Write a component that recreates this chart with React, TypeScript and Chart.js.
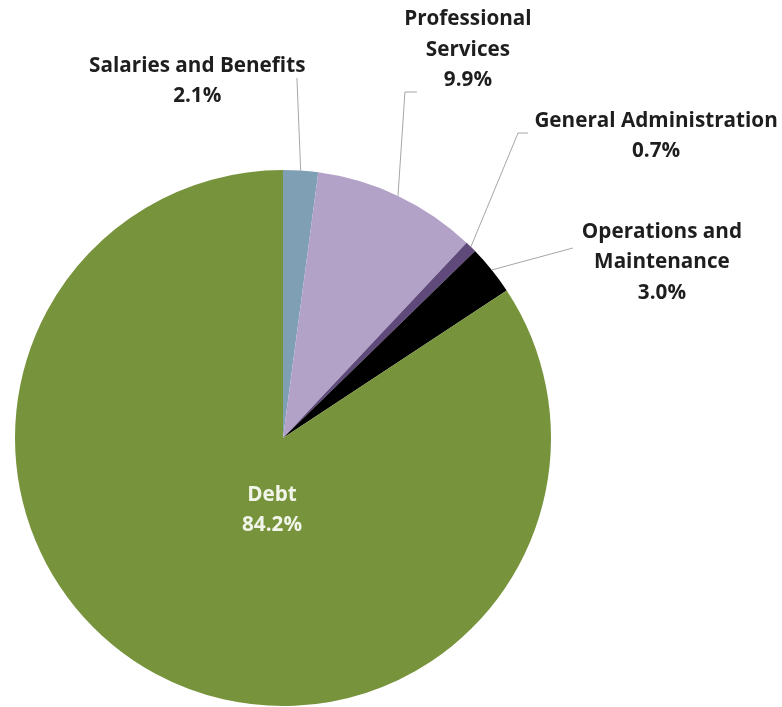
import React, { useEffect, useRef } from "react";
import { Chart, registerables } from "chart.js";

Chart.register(...registerables);

const categories = [
  "Salaries and Benefits",
  "Professional Services",
  "General Administration",
  "Operations and Maintenance",
  "Debt",
];
const labelLines = [
  ["Salaries and Benefits"],
  ["Professional", "Services"],
  ["General Administration"],
  ["Operations and", "Maintenance"],
  ["Debt"],
];
const shares = [2.1, 9.9, 0.7, 3.0, 84.2];
const colors = ["#7F9FB4", "#B3A2C7", "#604A7B", "#000000", "#77933C"];

// label placement relative to pie centre, in units of radius
const labelLayout = [
  { tx: -0.32, ty: -1.388, color: "#1E1E1E", leader: [[0.052, -1.343]] },
  { tx: 0.69, ty: -1.563, color: "#1E1E1E", leader: [[0.455, -1.291], [0.5, -1.291]] },
  { tx: 1.392, ty: -1.183, color: "#1E1E1E", leader: [[0.877, -1.138], [0.914, -1.138]] },
  { tx: 1.414, ty: -0.769, color: "#1E1E1E", leader: [[1.082, -0.709]] },
  { tx: -0.041, ty: 0.213, color: "#F2F5EA", leader: null },
];

const FONT = 'bold 20.7px "Open Sans", Lato, sans-serif';
const LINE_H = 30.5;

const labelPlugin = {
  id: "pieLabels",
  afterDatasetsDraw(chart: any) {
    const ctx = chart.ctx;
    const meta = chart.getDatasetMeta(0);
    meta.data.forEach((arc: any, i: number) => {
      const { x: cx, y: cy, outerRadius: r, startAngle, endAngle } = arc.getProps(
        ["x", "y", "outerRadius", "startAngle", "endAngle"],
        true
      );
      const lay = labelLayout[i];
      const mid = (startAngle + endAngle) / 2;
      if (lay.leader) {
        ctx.save();
        ctx.strokeStyle = "#A6A6A6";
        ctx.lineWidth = 1;
        ctx.beginPath();
        ctx.moveTo(cx + Math.cos(mid) * r, cy + Math.sin(mid) * r);
        lay.leader.forEach(([dx, dy]) => ctx.lineTo(cx + dx * r, cy + dy * r));
        ctx.stroke();
        ctx.restore();
      }
      const lines = [...labelLines[i], `${shares[i].toFixed(1)}%`];
      ctx.save();
      ctx.font = FONT;
      ctx.fillStyle = lay.color;
      ctx.textAlign = "center";
      ctx.textBaseline = "middle";
      const x = cx + lay.tx * r;
      const y0 = cy + lay.ty * r;
      lines.forEach((t, k) => ctx.fillText(t, x, y0 + k * LINE_H));
      ctx.restore();
    });
  },
};

export default function App() {
  const ref = useRef<HTMLCanvasElement | null>(null);
  useEffect(() => {
    document.body.style.margin = "0";
    const chart = new Chart(ref.current!, {
      type: "pie",
      data: {
        labels: categories,
        datasets: [
          {
            data: shares,
            backgroundColor: colors,
            borderWidth: 0,
          },
        ],
      },
      options: {
        responsive: false,
        animation: false,
        layout: { padding: { top: 170, bottom: 1, left: 15, right: 231 } },
        plugins: {
          legend: { display: false },
          tooltip: { enabled: false },
        },
      },
      plugins: [labelPlugin],
    });
    return () => chart.destroy();
  }, []);
  return (
    <div style={{ width: 782, height: 707, background: "#fff" }}>
      <canvas ref={ref} width={782} height={707} />
    </div>
  );
}
